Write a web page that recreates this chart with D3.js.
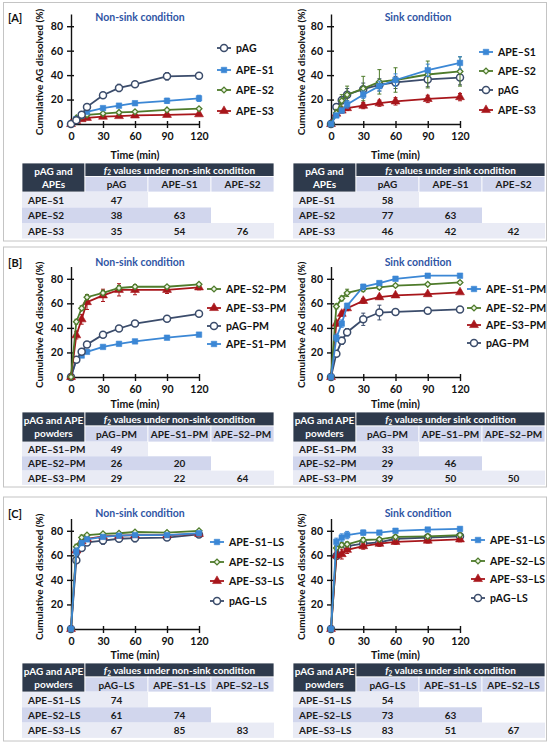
<!DOCTYPE html>
<html>
<head>
<meta charset="utf-8">
<script src="https://cdn.jsdelivr.net/npm/d3@7"></script>
<style>
  body { margin: 0; background: #fff; }
  svg { font-family: Lato, "Open Sans", sans-serif; font-weight: 700; }
</style>
</head>
<body>
<div id="vis"></div>
<script>
// time points and ticks
const times = [0, 5, 10, 15, 30, 45, 60, 90, 120];
const xTicks = [0, 30, 60, 90, 120];
const yTicks = [0, 20, 40, 60, 80];

// [A] non-sink
const aNsPAG = [0, 3, 7.5, 14, 23.5, 29.5, 32.5, 39, 39.5];
const aNsPAGErr = [0, 0.5, 1, 1.5, 2, 3, 1.5, 3, 1.5];
const aNsS1 = [0, 4, 7, 10, 13, 15, 17, 19, 21];
const aNsS1Err = [0, 0.5, 1, 1, 1, 1, 1.5, 2, 2.5];
const aNsS2 = [0, 5, 6.5, 7.5, 8.5, 9.5, 10, 11.5, 12.5];
const aNsS2Err = [0, 0.5, 0.5, 0.5, 0.5, 0.5, 0.5, 1, 1];
const aNsS3 = [0, 2.5, 4, 5, 6, 6.5, 7, 7.5, 8];
const aNsS3Err = [0, 0.5, 0.5, 0.5, 0.5, 0.5, 0.5, 0.5, 0.5];

// [A] sink
const aSkS1 = [0, 7, 11, 16, 24, 31, 36, 44, 50];
const aSkS1Err = [0, 1, 2, 3, 3, 4, 5, 5, 5];
const aSkS2 = [0, 9, 19, 24, 29, 34.5, 36, 40.5, 43];
const aSkS2Err = [0, 3, 5, 7, 10, 10, 10, 11, 12];
const aSkPAG = [0, 14, 19.5, 24, 28.5, 32, 34, 36.5, 38];
const aSkPAGErr = [0, 2, 3, 5, 5, 5, 5, 6, 6];
const aSkS3 = [0, 8.5, 11, 13, 15, 17, 18.5, 20.5, 22];
const aSkS3Err = [0, 2, 2, 2, 2.5, 2.5, 3, 3, 3];

// [B] non-sink
const bNsS2 = [0, 45, 56, 65, 68.5, 72.5, 73.5, 73.5, 75.5];
const bNsS2Err = [0, 2, 2, 2, 2, 2, 1.5, 1, 1];
const bNsS3 = [0, 34, 47, 61, 66.5, 71, 71, 71, 73];
const bNsS3Err = [0, 3, 4, 6, 5, 5, 4, 3, 2];
const bNsPAG = [0, 14, 20.5, 26.5, 34.5, 39.5, 43.5, 47.5, 51.5];
const bNsPAGErr = [0, 1, 1, 1, 1, 1, 1, 1, 1];
const bNsS1 = [0, 14, 17.5, 20.5, 24.5, 27, 29, 32, 34.5];
const bNsS1Err = [0, 1, 1, 1, 1, 1, 1, 1, 1];

// [B] sink
const bSkS1 = [0, 32, 43.5, 58, 73.5, 76.5, 80, 82.5, 82.5];
const bSkS1Err = [0, 3, 3, 2, 2, 1.5, 1.5, 1.5, 1.5];
const bSkS2 = [0, 57.5, 64, 68.5, 71.5, 73, 74.5, 75.5, 77];
const bSkS2Err = [0, 2, 2, 3, 2, 1.5, 1, 1, 1];
const bSkS3 = [0, 43.5, 51.5, 56, 62, 65, 66.5, 67.5, 69];
const bSkS3Err = [0, 2, 2, 2, 2, 1.5, 1, 1, 1];
const bSkPAG = [0, 19, 29.5, 36.5, 47, 52.5, 53, 54, 55];
const bSkPAGErr = [0, 2, 3, 3, 5, 6, 2, 1.5, 1.5];

// [C] non-sink
const cNsS1 = [0, 63, 70, 73, 75, 76, 76.5, 76.5, 78];
const cNsS1Err = [0, 3, 2, 1, 1, 1, 1, 1, 1];
const cNsS2 = [0, 67, 74.5, 76.5, 77.5, 78, 79, 78.5, 80];
const cNsS2Err = [0, 2, 2, 1, 1, 1, 1, 1, 1];
const cNsS3 = [0, 64, 71.5, 73.5, 75.5, 76, 76.5, 76.5, 77.5];
const cNsS3Err = [0, 3, 2, 1, 1, 1, 1, 1, 1];
const cNsPAG = [0, 56, 66, 70.5, 72, 73.5, 74, 74.5, 77];
const cNsPAGErr = [0, 2, 2, 1.5, 3, 2, 3, 2, 2];

// [C] sink
const cSkS1 = [0, 71, 74.5, 76.5, 78.5, 78.5, 80, 81, 81.5];
const cSkS1Err = [0, 3, 3, 3, 2, 1.5, 1.5, 1.5, 1.5];
const cSkS2 = [0, 66, 68.5, 69, 72.5, 73, 75, 75.5, 76.5];
const cSkS2Err = [0, 2, 2, 2, 2, 1.5, 1.5, 1.5, 1.5];
const cSkS3 = [0, 60, 61, 64.5, 67.5, 69.5, 71, 72, 73];
const cSkS3Err = [0, 3, 4, 3, 2.5, 2, 2, 2, 2];
const cSkPAG = [0, 59.5, 64.5, 67.5, 69.5, 70.5, 73.5, 74.5, 75.5];
const cSkPAGErr = [0, 2, 2, 2, 2, 1.5, 1.5, 1.5, 1.5];

// f2 tables
const aRowHead = ['pAG and', 'APEs'];
const aCols = ['pAG', 'APE–S1', 'APE–S2'];
const aRows = ['APE–S1', 'APE–S2', 'APE–S3'];
const aNsF2 = [[47], [38, 63], [35, 54, 76]];
const aSkF2 = [[58], [77, 63], [46, 42, 42]];

const bRowHead = ['pAG and APE', 'powders'];
const bCols = ['pAG–PM', 'APE–S1–PM', 'APE–S2–PM'];
const bRows = ['APE–S1–PM', 'APE–S2–PM', 'APE–S3–PM'];
const bNsF2 = [[49], [26, 20], [29, 22, 64]];
const bSkF2 = [[33], [29, 46], [39, 50, 50]];

const cRowHead = ['pAG and APE', 'powders'];
const cCols = ['pAG–LS', 'APE–S1–LS', 'APE–S2–LS'];
const cRows = ['APE–S1–LS', 'APE–S2–LS', 'APE–S3–LS'];
const cNsF2 = [[74], [61, 74], [67, 85, 83]];
const cSkF2 = [[54], [73, 63], [83, 51, 67]];

// marker styles per formulation
const styles = {
  pAG: {color: '#3b4c6b', fill: '#fff', shape: 'circle'},
  S1: {color: '#3b87d5', fill: '#3b87d5', shape: 'square'},
  S2: {color: '#4e7b2b', fill: '#eef5e6', shape: 'diamond'},
  S3: {color: '#a8161b', fill: '#a8161b', shape: 'triangle'}
};

const svg = d3.select('#vis')
  .append('svg')
  .attr('width', 550)
  .attr('height', 744);

const leftX = [71, 199];
const rightX = [331, 460];
const leftCols = [22, 85, 148, 211, 274];
const rightCols = [293, 356, 419, 482, 545];

const panels = [
  {
    letter: '[A]', top: 2.5, bottom: 241, titleY: 17, plotTop: 14, plotBottom: 124, timeY: 155,
    table: {top: 163, h1: 13.5, h2: 15.5, rh: 15.5, head: aRowHead, cols: aCols, rows: aRows},
    left: {
      legendX: 217, legendY: [48, 70, 90, 111], f2: aNsF2,
      series: [
        {key: 'pAG', label: 'pAG', v: aNsPAG, e: aNsPAGErr},
        {key: 'S1', label: 'APE–S1', v: aNsS1, e: aNsS1Err},
        {key: 'S2', label: 'APE–S2', v: aNsS2, e: aNsS2Err},
        {key: 'S3', label: 'APE–S3', v: aNsS3, e: aNsS3Err}
      ]
    },
    right: {
      legendX: 479, legendY: [52, 71, 90, 110], f2: aSkF2,
      series: [
        {key: 'S1', label: 'APE–S1', v: aSkS1, e: aSkS1Err},
        {key: 'S2', label: 'APE–S2', v: aSkS2, e: aSkS2Err},
        {key: 'pAG', label: 'pAG', v: aSkPAG, e: aSkPAGErr},
        {key: 'S3', label: 'APE–S3', v: aSkS3, e: aSkS3Err}
      ]
    }
  },
  {
    letter: '[B]', top: 247, bottom: 487, titleY: 262, plotTop: 266.5, plotBottom: 377, timeY: 404,
    table: {top: 412, h1: 14, h2: 16, rh: 14.3, head: bRowHead, cols: bCols, rows: bRows},
    left: {
      legendX: 207, legendY: [289, 308, 326, 344], f2: bNsF2,
      series: [
        {key: 'S2', label: 'APE–S2–PM', v: bNsS2, e: bNsS2Err},
        {key: 'S3', label: 'APE–S3–PM', v: bNsS3, e: bNsS3Err},
        {key: 'pAG', label: 'pAG–PM', v: bNsPAG, e: bNsPAGErr},
        {key: 'S1', label: 'APE–S1–PM', v: bNsS1, e: bNsS1Err}
      ]
    },
    right: {
      legendX: 467, legendY: [289, 308, 325, 343], f2: bSkF2,
      series: [
        {key: 'S1', label: 'APE–S1–PM', v: bSkS1, e: bSkS1Err},
        {key: 'S2', label: 'APE–S2–PM', v: bSkS2, e: bSkS2Err},
        {key: 'S3', label: 'APE–S3–PM', v: bSkS3, e: bSkS3Err},
        {key: 'pAG', label: 'pAG–PM', v: bSkPAG, e: bSkPAGErr}
      ]
    }
  },
  {
    letter: '[C]', top: 497, bottom: 741, titleY: 513, plotTop: 518.5, plotBottom: 629, timeY: 655,
    table: {top: 663, h1: 14, h2: 15, rh: 15.3, head: cRowHead, cols: cCols, rows: cRows},
    left: {
      legendX: 210, legendY: [542, 562, 581, 601], f2: cNsF2,
      series: [
        {key: 'S1', label: 'APE–S1–LS', v: cNsS1, e: cNsS1Err},
        {key: 'S2', label: 'APE–S2–LS', v: cNsS2, e: cNsS2Err},
        {key: 'S3', label: 'APE–S3–LS', v: cNsS3, e: cNsS3Err},
        {key: 'pAG', label: 'pAG–LS', v: cNsPAG, e: cNsPAGErr}
      ]
    },
    right: {
      legendX: 471, legendY: [540, 561, 579, 598], f2: cSkF2,
      series: [
        {key: 'S1', label: 'APE–S1–LS', v: cSkS1, e: cSkS1Err},
        {key: 'S2', label: 'APE–S2–LS', v: cSkS2, e: cSkS2Err},
        {key: 'S3', label: 'APE–S3–LS', v: cSkS3, e: cSkS3Err},
        {key: 'pAG', label: 'pAG–LS', v: cSkPAG, e: cSkPAGErr}
      ]
    }
  }
];

function drawMarker(g, key, cx, cy) {
  const st = styles[key];
  if (st.shape === 'circle') {
    g.append('circle').attr('cx', cx).attr('cy', cy).attr('r', 3.5)
      .attr('fill', st.fill).attr('stroke', st.color).attr('stroke-width', 1.5);
    return;
  }
  // diamond = small square turned 45 degrees
  const type = st.shape === 'triangle' ? d3.symbolTriangle : d3.symbolSquare;
  const size = {square: 30, diamond: 17, triangle: 34}[st.shape];
  g.append('path')
    .attr('d', d3.symbol().type(type).size(size)())
    .attr('transform', `translate(${cx},${cy})` + (st.shape === 'diamond' ? ' rotate(45)' : ''))
    .attr('fill', st.fill)
    .attr('stroke', st.color)
    .attr('stroke-width', st.shape === 'diamond' ? 1.3 : 0.6);
}

function drawChart(p, c, xr, title, titleX, yLabelX) {
  const g = svg.append('g');
  const x = d3.scaleLinear().domain([0, 120]).range(xr);
  const y = d3.scaleLinear().domain([0, 90]).range([p.plotBottom, p.plotTop]);

  // axes
  const xa = g.append('g')
    .attr('transform', `translate(0,${p.plotBottom})`)
    .call(d3.axisBottom(x).tickValues(xTicks).tickSize(4).tickSizeOuter(0).tickPadding(5));
  xa.selectAll('.tick line').attr('y1', -3);
  const ya = g.append('g')
    .attr('transform', `translate(${xr[0]},0)`)
    .call(d3.axisLeft(y).tickValues(yTicks).tickSize(4).tickSizeOuter(0).tickPadding(4));
  ya.selectAll('.tick line').attr('x1', 3);
  [xa, ya].forEach(a => {
    a.attr('font-family', 'Lato, sans-serif').attr('font-size', 10.5).attr('font-weight', 700);
    a.selectAll('path, line').attr('stroke', '#111').attr('stroke-width', 1.4);
    a.selectAll('text').attr('fill', '#111');
  });

  // series, drawn back to front
  c.series.slice().reverse().forEach(s => {
    const st = styles[s.key];
    const pts = times.map((t, i) => ({t, v: s.v[i], e: s.e[i]}));
    pts.filter(d => d.e > 0).forEach(d => {
      g.append('line').attr('x1', x(d.t)).attr('x2', x(d.t))
        .attr('y1', y(d.v - d.e)).attr('y2', y(d.v + d.e))
        .attr('stroke', st.color).attr('stroke-width', 1);
      [d.v - d.e, d.v + d.e].forEach(v => {
        g.append('line').attr('x1', x(d.t) - 2).attr('x2', x(d.t) + 2)
          .attr('y1', y(v)).attr('y2', y(v))
          .attr('stroke', st.color).attr('stroke-width', 1);
      });
    });
    g.append('path')
      .datum(pts)
      .attr('fill', 'none')
      .attr('stroke', st.color)
      .attr('stroke-width', 1.8)
      .attr('d', d3.line().x(d => x(d.t)).y(d => y(d.v)));
    pts.forEach(d => drawMarker(g, s.key, x(d.t), y(d.v)));
  });

  // legend
  c.series.forEach((s, i) => {
    const ly = c.legendY[i];
    g.append('line').attr('x1', c.legendX).attr('x2', c.legendX + 14)
      .attr('y1', ly).attr('y2', ly)
      .attr('stroke', styles[s.key].color).attr('stroke-width', 1.8);
    drawMarker(g, s.key, c.legendX + 7, ly);
    g.append('text').attr('x', c.legendX + 19).attr('y', ly)
      .attr('dominant-baseline', 'central')
      .attr('font-size', 10.5).attr('fill', '#111')
      .text(s.label);
  });

  // titles
  g.append('text').attr('x', titleX).attr('y', p.titleY)
    .attr('text-anchor', 'middle').attr('dominant-baseline', 'central')
    .attr('font-size', 10.5).attr('fill', '#2f55a4')
    .text(title);
  g.append('text')
    .attr('transform', `translate(${yLabelX},${(p.plotTop + p.plotBottom) / 2 + 3}) rotate(-90)`)
    .attr('text-anchor', 'middle').attr('dominant-baseline', 'central')
    .attr('font-size', 10).attr('fill', '#111')
    .text('Cumulative AG dissolved (%)');
  g.append('text').attr('x', (xr[0] + xr[1]) / 2).attr('y', p.timeY)
    .attr('text-anchor', 'middle').attr('dominant-baseline', 'central')
    .attr('font-size', 10.5).attr('fill', '#111')
    .text('Time (min)');
}

function drawTable(t, cols, values, condition) {
  const g = svg.append('g').attr('font-size', 10);
  const dark = '#2e3a4c', mid = '#d1d6ed', light = '#e9ebf5';
  const y1 = t.top + t.h1, y2 = y1 + t.h2;

  g.append('rect').attr('x', cols[0]).attr('y', t.top)
    .attr('width', cols[1] - cols[0]).attr('height', t.h1 + t.h2)
    .attr('fill', dark).attr('stroke', '#fff').attr('stroke-width', 0.8);
  g.append('rect').attr('x', cols[1]).attr('y', t.top)
    .attr('width', cols[4] - cols[1]).attr('height', t.h1)
    .attr('fill', dark).attr('stroke', '#fff').attr('stroke-width', 0.8);
  t.head.forEach((h, i) => {
    g.append('text').attr('x', (cols[0] + cols[1]) / 2).attr('y', t.top + 7.5 + i * 13)
      .attr('text-anchor', 'middle').attr('dominant-baseline', 'central')
      .attr('fill', '#fff').text(h);
  });
  const f2 = g.append('text').attr('x', (cols[1] + cols[4]) / 2).attr('y', t.top + t.h1 / 2)
    .attr('text-anchor', 'middle').attr('dominant-baseline', 'central').attr('fill', '#fff');
  f2.append('tspan').attr('font-style', 'italic').text('f');
  f2.append('tspan').attr('font-size', 6.5).attr('dy', 2.5).text('2');
  f2.append('tspan').attr('dy', -2.5).text(` values under ${condition} condition`);

  t.cols.forEach((c, j) => {
    g.append('rect').attr('x', cols[j + 1]).attr('y', y1)
      .attr('width', cols[j + 2] - cols[j + 1]).attr('height', t.h2)
      .attr('fill', mid).attr('stroke', '#fff').attr('stroke-width', 0.8);
    g.append('text').attr('x', (cols[j + 1] + cols[j + 2]) / 2).attr('y', y1 + t.h2 / 2)
      .attr('text-anchor', 'middle').attr('dominant-baseline', 'central')
      .attr('fill', '#1a1a1a').text(c);
  });

  t.rows.forEach((r, i) => {
    const ry = y2 + i * t.rh;
    const fill = i === 1 ? mid : light;
    g.append('rect').attr('x', cols[0]).attr('y', ry)
      .attr('width', cols[values[i].length + 1] - cols[0]).attr('height', t.rh)
      .attr('fill', fill);
    g.append('text').attr('x', cols[0] + 6).attr('y', ry + t.rh / 2)
      .attr('dominant-baseline', 'central').attr('fill', '#1a1a1a').text(r);
    values[i].forEach((v, j) => {
      g.append('text').attr('x', (cols[j + 1] + cols[j + 2]) / 2).attr('y', ry + t.rh / 2)
        .attr('text-anchor', 'middle').attr('dominant-baseline', 'central')
        .attr('fill', '#1a1a1a').text(v);
    });
  });
}

panels.forEach(p => {
  svg.append('rect')
    .attr('x', 3.5).attr('y', p.top)
    .attr('width', 543).attr('height', p.bottom - p.top)
    .attr('fill', '#fff').attr('stroke', '#c4c4c4').attr('stroke-width', 1);
  svg.append('text').attr('x', 8).attr('y', p.titleY)
    .attr('dominant-baseline', 'central')
    .attr('font-size', 11).attr('fill', '#111')
    .text(p.letter);

  drawChart(p, p.left, leftX, 'Non-sink condition', 140, 39);
  drawChart(p, p.right, rightX, 'Sink condition', 418, 301);
  drawTable(p.table, leftCols, p.left.f2, 'non-sink');
  drawTable(p.table, rightCols, p.right.f2, 'sink');
});
</script>
</body>
</html>
